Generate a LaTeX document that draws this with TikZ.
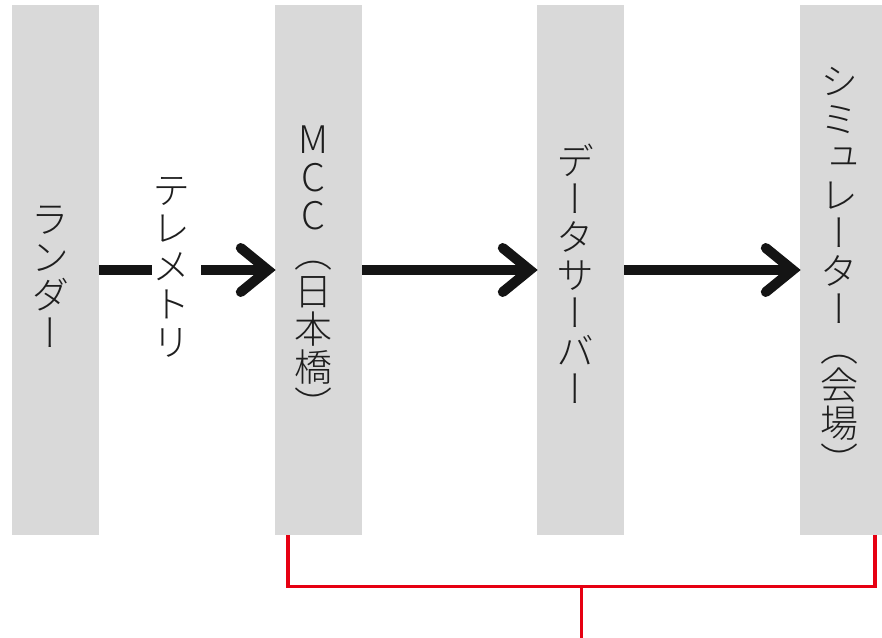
\documentclass[tikz,border=0pt]{standalone}
\usepackage{fontspec}
\IfFontExistsTF{Noto Sans CJK JP Light}
  {\newfontfamily\cjkv[RawFeature=+vert]{Noto Sans CJK JP Light}}
  {\newfontfamily\cjkv[RawFeature=+vert]{Noto Sans CJK JP}}
\newcommand\vcell[1]{\hbox to 1em{\hss\vrule width0pt height0.88em depth0.12em\relax #1\hss}}
\def\vstackloop#1{\ifx#1\relax\else\vcell{#1}\expandafter\vstackloop\fi}
\newcommand\vstack[1]{\vbox{\offinterlineskip\vstackloop#1\relax}}
\definecolor{barg}{HTML}{D9D9D9}
\definecolor{ink}{HTML}{141414}
\definecolor{txt}{HTML}{1E1E1E}
\definecolor{redc}{HTML}{E60012}
\tikzset{
  bar/.style={fill=barg, draw=none, minimum width=87pt, minimum height=530pt, inner sep=0pt},
  vlabel/.style={inner sep=0pt, text=txt, font=\cjkv\fontsize{38}{38}\selectfont},
  flow/.style={line width=10pt, draw=ink, line cap=butt},
  chev/.style={line width=10pt, draw=ink, line join=miter, line cap=round},
  bracket/.style={line width=3.5pt, draw=redc, line join=miter},
}
\begin{document}
\begin{tikzpicture}[x=1pt, y=-1pt]
\useasboundingbox (0,0) rectangle (882,637);
% bars
\node[bar] (lander) at (55.5,270) {};
\node[bar] (mcc) at (318.5,270) {};
\node[bar] (dserv) at (580.5,270) {};
\node[bar] (sim) at (843.5,270) {};
% labels
\node[vlabel] (tlander) at (50,276) {\vstack{ランダー}};
\node[vlabel] (ttele) at (171,266) {\vstack{テレメトリ}};
\node[vlabel] (tmcc) at (313,272) {\vstack{MCC（日本橋）}};
\node[vlabel] (tdata) at (575,275) {\vstack{データサーバー}};
\node[vlabel] (tsim) at (839,271) {\vstack{シミュレーター（会場）}};
% arrows
\coordinate (g1) at (152,270);
\coordinate (g2) at (201,270);
\draw[flow] (lander.east) -- (g1);
\draw[flow] (g2) -- ([xshift=-7pt]mcc.west);
\draw[chev] ([shift={(-34,-22)}]mcc.west) -- ([xshift=-7pt]mcc.west) -- ([shift={(-34,22)}]mcc.west);
\draw[flow] (mcc.east) -- ([xshift=-7pt]dserv.west);
\draw[chev] ([shift={(-34,-22)}]dserv.west) -- ([xshift=-7pt]dserv.west) -- ([shift={(-34,22)}]dserv.west);
\draw[flow] (dserv.east) -- ([xshift=-7pt]sim.west);
\draw[chev] ([shift={(-34,-22)}]sim.west) -- ([xshift=-7pt]sim.west) -- ([shift={(-34,22)}]sim.west);
% red bracket
\coordinate (ra) at ([xshift=13pt]mcc.south west);
\coordinate (rb) at ([xshift=-12pt]sim.south east);
\coordinate (rm) at (581.5,586.5);
\coordinate (rbot) at (581.5,640);
\draw[bracket] (ra) |- (rb |- rm) -- (rb);
\draw[bracket] (rm) -- (rbot);
\end{tikzpicture}
\end{document}
